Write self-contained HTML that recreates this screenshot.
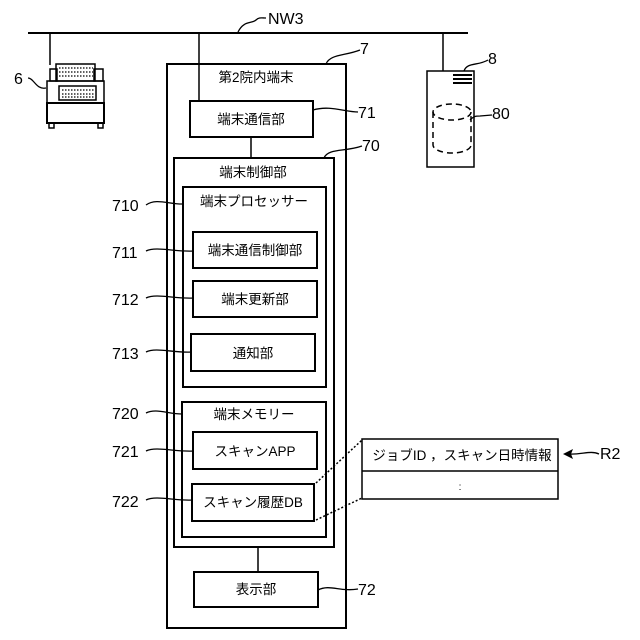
<!DOCTYPE html>
<html><head><meta charset="utf-8"><style>
html,body{margin:0;padding:0;background:#fff;}
svg{display:block;}
text{font-family:"Liberation Sans","Noto Sans CJK JP",sans-serif;fill:#000;}
.j{font-size:13.5px;text-anchor:middle;}
.n{font-size:16px;}
</style></head><body>
<svg width="640" height="640" viewBox="0 0 640 640" xmlns="http://www.w3.org/2000/svg">
<g fill="none" stroke="#000" stroke-width="2">
<line x1="28" y1="33" x2="468" y2="33"/>
<line x1="50" y1="33" x2="50" y2="65" stroke-width="1.5"/>
<line x1="199" y1="33" x2="199" y2="101" stroke-width="1.5"/>
<line x1="443" y1="33" x2="443" y2="71" stroke-width="1.5"/>
<path d="M238 32 C244 20,252 24,256 20 C259 17,262 18,266 18" stroke-width="1.3"/>
<rect x="50" y="69" width="7" height="12" stroke-width="1.5"/>
<rect x="94" y="69" width="9" height="12" stroke-width="1.5"/>
<rect x="56" y="64" width="39" height="17" stroke-width="1.5"/>
<rect x="47" y="81" width="57" height="22" stroke-width="1.5"/>
<rect x="59" y="86" width="37" height="14" stroke-width="1.5"/>
<rect x="47" y="103" width="57" height="20" stroke-width="2"/>
<rect x="49" y="123" width="5" height="5" stroke-width="1.5"/>
<rect x="98" y="123" width="5" height="5" stroke-width="1.5"/>
<g stroke-width="1.2" stroke-dasharray="1.5 1.5">
<line x1="59" y1="68" x2="93" y2="68"/><line x1="59" y1="72" x2="93" y2="72"/><line x1="59" y1="76" x2="93" y2="76"/>
<line x1="62" y1="90" x2="94" y2="90"/><line x1="62" y1="94" x2="94" y2="94"/><line x1="62" y1="97" x2="94" y2="97"/>
</g>
<path d="M28 78 C34 78,36 90,46 88" stroke-width="1.3"/>
<rect x="427" y="71" width="47" height="96" stroke-width="1.5"/>
<line x1="453" y1="75" x2="472" y2="75" stroke-width="2"/>
<line x1="453" y1="79" x2="472" y2="79" stroke-width="2"/>
<line x1="453" y1="83" x2="472" y2="83" stroke-width="2"/>
<g stroke-dasharray="6 4" stroke-width="1.5">
<ellipse cx="452" cy="112" rx="19" ry="8"/>
<path d="M433 112 L433 145 A19 8 0 0 0 471 145 L471 112"/>
</g>
<path d="M464 71 C467 62,478 66,488 60" stroke-width="1.3"/>
<path d="M470 120 C474 116,476 116,480 116 L492 115" stroke-width="1.3"/>
<rect x="167" y="64" width="179" height="564" stroke-width="2"/>
<path d="M326 64 C330 54,345 56,360 50" stroke-width="1.3"/>
<rect x="190" y="101" width="123" height="36" stroke-width="2"/>
<path d="M313 110 C330 105,345 112,358 112" stroke-width="1.3"/>
<line x1="251" y1="137" x2="251" y2="158" stroke-width="1.5"/>
<rect x="174" y="158" width="160" height="389" stroke-width="2"/>
<path d="M324 158 C328 148,345 152,362 146" stroke-width="1.3"/>
<rect x="183" y="187" width="143" height="200" stroke-width="2"/>
<rect x="193" y="232" width="124" height="36" stroke-width="2"/>
<rect x="193" y="281" width="124" height="36" stroke-width="2"/>
<rect x="191" y="334" width="124" height="37" stroke-width="2"/>
<rect x="182" y="402" width="144" height="135" stroke-width="2"/>
<rect x="193" y="432" width="124" height="37" stroke-width="2"/>
<rect x="192" y="484" width="122" height="37" stroke-width="2"/>
<line x1="258" y1="547" x2="258" y2="572" stroke-width="1.5"/>
<rect x="194" y="572" width="124" height="35" stroke-width="2"/>
<path d="M318 590 C330 584,340 592,358 589" stroke-width="1.3"/>
<g stroke-width="1.3">
<path d="M146 205 C156 198,168 204,182 204"/>
<path d="M146 251 C156 246,175 252,193 251"/>
<path d="M146 298 C156 293,175 299,193 298"/>
<path d="M146 352 C156 347,173 353,191 352"/>
<path d="M146 413 C156 408,168 414,182 414"/>
<path d="M146 451 C156 446,175 452,193 451"/>
<path d="M146 500 C156 495,175 501,192 500"/>
</g>
<rect x="362" y="439" width="196" height="60" stroke-width="1.5"/>
<line x1="362" y1="471" x2="558" y2="471" stroke-width="1.5"/>
<line x1="316" y1="483" x2="362" y2="440" stroke-width="1.5" stroke-dasharray="2 2"/>
<line x1="316" y1="520" x2="362" y2="498" stroke-width="1.5" stroke-dasharray="2 2"/>
<path d="M599 454 C590 450,582 455,568 454" stroke-width="1.3"/>
</g>
<polygon points="563,454 573,449 571,454 573,459" fill="#000"/>
<text x="268" y="24" class="n">NW3</text>
<text x="14" y="84" class="n">6</text>
<text x="360" y="54" class="n">7</text>
<text x="488" y="64" class="n">8</text>
<text x="492" y="119" class="n">80</text>
<text x="358" y="118" class="n">71</text>
<text x="362" y="151" class="n">70</text>
<text x="358" y="595" class="n">72</text>
<text x="600" y="459" class="n">R2</text>
<text x="112" y="211" class="n">710</text>
<text x="112" y="258" class="n">711</text>
<text x="112" y="305" class="n">712</text>
<text x="112" y="359" class="n">713</text>
<text x="112" y="419" class="n">720</text>
<text x="112" y="457" class="n">721</text>
<text x="112" y="507" class="n">722</text>
<text x="256" y="82" class="j">第2院内端末</text>
<text x="251" y="124" class="j">端末通信部</text>
<text x="253" y="177" class="j">端末制御部</text>
<text x="254" y="206" class="j">端末プロセッサー</text>
<text x="255" y="255" class="j">端末通信制御部</text>
<text x="255" y="304" class="j">端末更新部</text>
<text x="253" y="358" class="j">通知部</text>
<text x="254" y="419" class="j">端末メモリー</text>
<text x="255" y="456" class="j">スキャンAPP</text>
<text x="253" y="507" class="j">スキャン履歴DB</text>
<text x="256" y="594" class="j">表示部</text>
<text x="462" y="460" class="j">ジョブID ，スキャン日時情報</text>
<text x="460" y="490" class="j" style="font-size:10px">:</text>
</svg>
</body></html>
